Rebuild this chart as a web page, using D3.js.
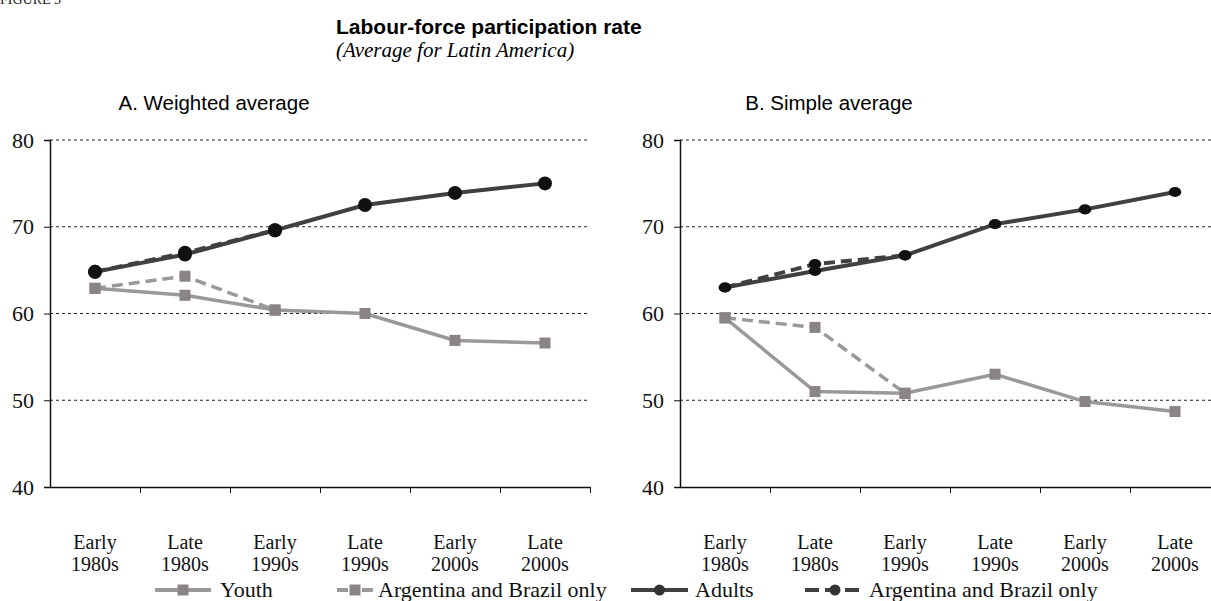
<!DOCTYPE html>
<html>
<head>
<meta charset="utf-8">
<script src="https://cdn.jsdelivr.net/npm/d3@7"></script>
<style>
  body { margin: 0; background: #fff; }
  svg { display: block; }
</style>
</head>
<body>
<div id="chart"></div>
<script>
// categories and tick labels
var periods = ["e80", "l80", "e90", "l90", "e00", "l00"];
var periodLabels = [["Early", "1980s"], ["Late", "1980s"], ["Early", "1990s"],
                    ["Late", "1990s"], ["Early", "2000s"], ["Late", "2000s"]];
var yTicks = [40, 50, 60, 70, 80];

// A. Weighted average
var weightedAdults = [64.8, 66.8, 69.6, 72.5, 73.9, 75.0];
var weightedAdultsAB = [64.8, 67.0, 69.6];
var weightedYouth = [62.9, 62.1, 60.4, 60.0, 56.9, 56.6];
var weightedYouthAB = [62.9, 64.3, 60.4];

// B. Simple average
var simpleAdults = [63.0, 64.9, 66.7, 70.3, 72.0, 74.0];
var simpleAdultsAB = [63.0, 65.7, 66.7];
var simpleYouth = [59.5, 51.0, 50.8, 53.0, 49.85, 48.7];
var simpleYouthAB = [59.5, 58.4, 50.8];

var legendLabels = ["Youth", "Argentina and Brazil only", "Adults", "Argentina and Brazil only"];

var W = 1211, H = 601;
var svg = d3.select("#chart").append("svg")
    .attr("width", W)
    .attr("height", H);

var serif = "'Liberation Serif', 'Times New Roman', serif";
var sans = "'Liberation Sans', Arial, sans-serif";

svg.append("text")
    .attr("x", 0).attr("y", 4)
    .style("font-family", serif).style("font-size", "14px").attr("fill", "#222")
    .text("FIGURE 5");
svg.append("text")
    .attr("x", 336).attr("y", 34)
    .style("font-family", sans).style("font-size", "21px").style("font-weight", "bold")
    .text("Labour-force participation rate");
svg.append("text")
    .attr("x", 336).attr("y", 57)
    .style("font-family", serif).style("font-size", "21px").style("font-style", "italic")
    .text("(Average for Latin America)");

var youthColor = "#999999", youthMarker = "#8a8484";
var adultColor = "#404040", adultMarker = "#111111";

function panel(opts) {
  var g = svg.append("g");
  var x = d3.scaleBand().domain(periods).range([opts.left, opts.left + 540]);
  var y = d3.scaleLinear().domain([40, 80]).range([487, 140]);

  g.append("text")
      .attr("x", opts.titleX).attr("y", 110)
      .attr("text-anchor", "middle")
      .style("font-family", sans).style("font-size", "20.5px")
      .text(opts.title);

  // grid
  g.selectAll("line.grid").data(yTicks.filter(function(d) { return d > 40; }))
    .enter().append("line")
      .attr("class", "grid")
      .attr("x1", opts.left).attr("x2", opts.gridRight)
      .attr("y1", function(d) { return y(d); })
      .attr("y2", function(d) { return y(d); })
      .attr("stroke", "#222").attr("stroke-width", 1)
      .attr("stroke-dasharray", "3,3");

  // y axis
  var yAxis = g.append("g")
      .attr("transform", "translate(" + opts.left + ",0)")
      .call(d3.axisLeft(y).tickValues(yTicks).tickSize(6).tickPadding(10));
  yAxis.selectAll("text").style("font-family", serif).style("font-size", "22px").attr("fill", "#111");
  yAxis.select("path.domain").attr("stroke", "#111").attr("stroke-width", 1.5);
  yAxis.selectAll(".tick line").attr("stroke", "#111");

  // x axis (ticks at band edges)
  var xEdges = d3.scaleLinear().domain([0, 6]).range(x.range());
  var xAxis = g.append("g")
      .attr("transform", "translate(0," + y(40) + ")")
      .call(d3.axisBottom(xEdges).ticks(6).tickSize(6).tickSizeOuter(0).tickFormat(""));
  xAxis.select("path.domain").attr("stroke", "#111").attr("stroke-width", 1.5);
  xAxis.selectAll(".tick line").attr("stroke", "#111");
  xAxis.selectAll(".tick").filter(function(d) { return d === 0; }).remove();

  // two-line category labels
  [0, 1].forEach(function(row) {
    g.selectAll(null).data(periods).enter().append("text")
        .attr("x", function(d) { return x(d) + x.bandwidth() / 2; })
        .attr("y", row === 0 ? 549 : 571)
        .attr("text-anchor", "middle")
        .style("font-family", serif).style("font-size", "20px").attr("fill", "#111")
        .text(function(d, i) { return periodLabels[i][row]; });
  });

  var line = d3.line()
      .x(function(d, i) { return x(periods[i]) + x.bandwidth() / 2; })
      .y(function(d) { return y(d); });

  function series(vals, color, dashed, width) {
    g.append("path").datum(vals)
        .attr("fill", "none")
        .attr("stroke", color)
        .attr("stroke-width", width)
        .attr("stroke-dasharray", dashed ? "11,6" : null)
        .attr("d", line);
  }
  function squares(vals, s) {
    g.selectAll(null).data(vals).enter().append("rect")
        .attr("x", function(d, i) { return x(periods[i]) + x.bandwidth() / 2 - s / 2; })
        .attr("y", function(d) { return y(d) - s / 2; })
        .attr("width", s).attr("height", s)
        .attr("fill", youthMarker);
  }
  function dots(vals, r) {
    g.selectAll(null).data(vals).enter().append("ellipse")
        .attr("cx", function(d, i) { return x(periods[i]) + x.bandwidth() / 2; })
        .attr("cy", function(d) { return y(d); })
        .attr("rx", r).attr("ry", r * opts.dotSquash)
        .attr("fill", adultMarker);
  }

  series(opts.youth, youthColor, false, 3.5);
  series(opts.youthAB, youthColor, true, 3.5);
  series(opts.adults, adultColor, false, 4);
  series(opts.adultsAB, adultColor, true, 4);
  squares(opts.youth, opts.sq);
  squares(opts.youthAB, opts.sq);
  dots(opts.adults, opts.r);
  dots(opts.adultsAB, opts.r);
}

panel({
  left: 50, gridRight: 590, titleX: 214, title: "A. Weighted average",
  adults: weightedAdults, adultsAB: weightedAdultsAB,
  youth: weightedYouth, youthAB: weightedYouthAB,
  r: 7, dotSquash: 1, sq: 11
});
panel({
  left: 680, gridRight: 1220, titleX: 829, title: "B. Simple average",
  adults: simpleAdults, adultsAB: simpleAdultsAB,
  youth: simpleYouth, youthAB: simpleYouthAB,
  r: 6.3, dotSquash: 0.8, sq: 11
});

// legend
var legendItems = [
  {x: 155, len: 56, textX: 65, color: youthColor, dashed: false, shape: "square"},
  {x: 337, len: 36, textX: 41, color: youthColor, dashed: true, shape: "square"},
  {x: 631, len: 57, textX: 64, color: adultColor, dashed: false, shape: "circle"},
  {x: 805, len: 60, textX: 64, color: adultColor, dashed: true, shape: "circle"}
];
var ly = 590;
var leg = svg.selectAll("g.leg").data(legendItems).enter().append("g")
    .attr("class", "leg")
    .attr("transform", function(d) { return "translate(" + d.x + "," + ly + ")"; });
leg.append("line")
    .attr("x1", 0).attr("x2", function(d) { return d.len; })
    .attr("y1", 0).attr("y2", 0)
    .attr("stroke", function(d) { return d.color; })
    .attr("stroke-width", 4)
    .attr("stroke-dasharray", function(d) { return d.dashed ? (d.len < 40 ? "11,25" : "14,6") : null; });
leg.filter(function(d) { return d.dashed && d.len < 40; }).append("line")
    .attr("x1", 25).attr("x2", function(d) { return d.len; })
    .attr("y1", 0).attr("y2", 0)
    .attr("stroke", function(d) { return d.color; })
    .attr("stroke-width", 4);
leg.filter(function(d) { return d.shape === "square"; }).append("rect")
    .attr("x", function(d) { return d.len / 2 - 5.5; })
    .attr("y", -5.5).attr("width", 11).attr("height", 11)
    .attr("fill", youthMarker);
leg.filter(function(d) { return d.shape === "circle"; }).append("circle")
    .attr("cx", function(d) { return d.len / 2; }).attr("cy", 0).attr("r", 5.5)
    .attr("fill", "#333");
leg.append("text")
    .attr("x", function(d) { return d.textX; }).attr("y", 7)
    .style("font-family", serif).style("font-size", "22px").attr("fill", "#111")
    .text(function(d, i) { return legendLabels[i]; });
</script>
</body>
</html>
